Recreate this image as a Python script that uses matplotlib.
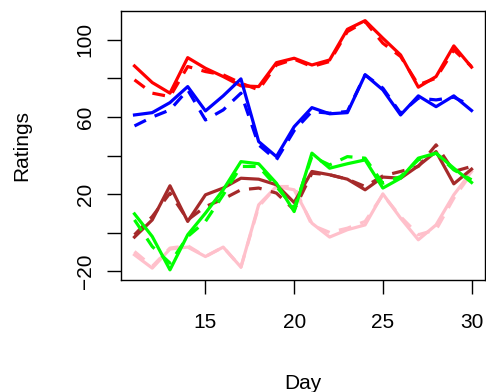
import matplotlib
matplotlib.use("Agg")
import matplotlib.pyplot as plt
import numpy as np

plt.rcParams['font.family'] = ['Liberation Sans', 'DejaVu Sans']

days = np.arange(11, 31)

red_solid = [86.5, 77.9, 72.4, 90.8, 85.3, 81.0, 76.2, 75.8, 88.2, 90.5,
             87.0, 89.6, 105.5, 110.0, 100.9, 92.2, 75.5, 81.0, 96.9, 85.9]
red_dash = [79.3, 72.4, 70.6, 86.2, 83.6, 81.9, 77.6, 74.1, 87.0, 90.0,
            86.2, 88.8, 104.3, 109.5, 98.3, 91.4, 76.7, 80.2, 94.8, 86.2]
blue_solid = [61.1, 62.3, 67.5, 75.8, 63.2, 71.0, 79.8, 47.3, 39.5, 55.0,
              64.9, 61.7, 62.3, 81.9, 74.1, 61.1, 71.0, 65.4, 71.0, 63.4]
blue_dash = [55.4, 60.0, 63.7, 74.1, 58.5, 63.7, 72.4, 45.6, 37.8, 53.0,
             62.9, 62.0, 62.9, 81.9, 75.0, 62.0, 69.8, 68.9, 70.3, 65.8]
green_solid = [9.8, -1.9, -19.2, -1.0, 10.2, 22.3, 36.9, 35.8, 25.7, 11.0,
               41.3, 33.5, 35.8, 37.8, 23.2, 28.3, 38.7, 41.3, 33.5, 26.1]
green_dash = [6.7, -7.1, -15.7, -1.9, 5.9, 19.7, 34.4, 34.4, 24.0, 12.8,
              39.5, 35.2, 39.5, 38.7, 25.7, 29.2, 37.8, 41.3, 32.6, 27.5]
brown_solid = [-2.2, 6.7, 24.4, 5.9, 19.7, 23.2, 28.3, 27.8, 24.9, 15.7,
               31.8, 30.1, 27.8, 22.3, 28.9, 28.3, 34.7, 42.1, 25.4, 33.0]
brown_dash = [-1.0, 8.4, 20.6, 6.7, 13.6, 17.5, 22.3, 23.2, 20.6, 11.9,
              30.9, 30.1, 27.8, 24.0, 29.5, 31.8, 34.4, 45.6, 31.8, 34.4]
pink_solid = [-11.4, -18.3, -8.4, -7.4, -12.3, -7.4, -17.8, 14.5, 24.0, 22.3,
              5.0, -2.2, 1.6, 4.1, 20.2, 7.6, -3.6, 4.1, 19.7, 31.8]
pink_dash = [-9.7, -17.4, -7.9, -6.7, -12.3, -7.4, -17.8, 13.6, 24.0, 24.0,
             4.0, 0.2, 2.4, 5.9, 19.7, 8.4, -1.0, 1.6, 18.0, 30.9]

series = [
    ("#FF0000", red_solid, red_dash),
    ("#0000FF", blue_solid, blue_dash),
    ("#FFC0CB", pink_solid, pink_dash),
    ("#A52A2A", brown_solid, brown_dash),
    ("#00FF00", green_solid, green_dash),
]

fig = plt.figure(figsize=(4.86, 3.92), dpi=100)
ax = fig.add_axes([0.249, 0.286, 0.749, 0.686])

for color, solid, dash in series:
    ax.plot(days, solid, color=color, lw=2.3, solid_joinstyle='round')
    ax.plot(days, dash, color=color, lw=2.3, linestyle=(0, (4, 3)))

ax.set_xlim(10.24, 30.76)
ax.set_ylim(-24.4, 115.0)

ax.set_xticks([15, 20, 25, 30])
yt = [-20, 0, 20, 40, 60, 80, 100]
ax.set_yticks(yt)
# R drops every other label on the y axis, keep the same look
ax.set_yticklabels([str(v).replace("-", "\u2212") if i % 2 == 0 else ""
                    for i, v in enumerate(yt)],
                   rotation=90, va='center')
ax.tick_params(axis='both', direction='out', length=10, width=1, labelsize=15)
ax.tick_params(axis='x', pad=14)
ax.tick_params(axis='y', pad=9)
for s in ax.spines.values():
    s.set_linewidth(1)

ax.set_xlabel("Day", fontsize=15, labelpad=30)
ax.set_ylabel("Ratings", fontsize=15, labelpad=32)

fig.savefig("out.png", dpi=100)
